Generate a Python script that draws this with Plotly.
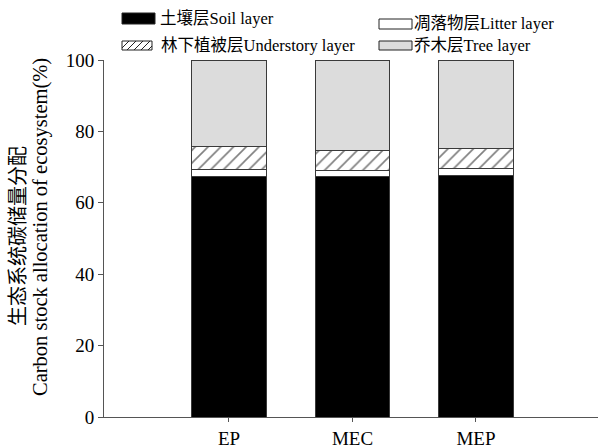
import plotly.graph_objects as go

# Forest types and carbon stock shares (%) of each ecosystem layer
sites = ["EP", "MEC", "MEP"]
soil = [67.5, 67.3, 67.7]
litter = [1.9, 1.7, 1.9]
understory = [6.5, 5.7, 5.7]
tree = [24.1, 25.3, 24.7]

y_ticks = [0, 20, 40, 60, 80, 100]

W, H = 598, 447
L, R, T, B = 104, 0, 60, 30
PW, PH = W - L - R, H - T - B

FONT = "Liberation Serif, Times New Roman, Noto Sans CJK SC, serif"
EDGE = "#3a3a3a"

fig = go.Figure()
x_pos = list(range(len(sites)))

fig.add_bar(x=x_pos, y=soil, name="土壤层Soil layer",
            marker=dict(color="black", line=dict(color=EDGE, width=1)))
fig.add_bar(x=x_pos, y=litter, name="凋落物层Litter layer",
            marker=dict(color="white", line=dict(color=EDGE, width=1)))
fig.add_bar(x=x_pos, y=understory, name="林下植被层Understory layer",
            marker=dict(color="white", line=dict(color=EDGE, width=1),
                        pattern=dict(shape="/", size=9, solidity=0.18,
                                     fgcolor="black", bgcolor="white",
                                     fillmode="overlay")))
fig.add_bar(x=x_pos, y=tree, name="乔木层Tree layer",
            marker=dict(color="#dcdcdc", line=dict(color=EDGE, width=1)))

fig.update_traces(width=0.6, showlegend=False)


def px(x):
    return (x - L) / PW


def py(y):
    return (H - B - y) / PH


# Hand-drawn legend: swatch boxes and labels above the plot
shapes = []
annotations = []

legend_items = [
    # (x0, x1, y0, y1, fill, label, text_x)
    (122, 155, 13, 24, "black", "土壤层Soil layer", 158),
    (379, 412, 19, 29, "white", "凋落物层Litter layer", 412),
    (122, 152, 41, 50, "white", "林下植被层Understory layer", 159),
    (379, 412, 41, 50, "#dcdcdc", "乔木层Tree layer", 412),
]
for x0, x1, y0, y1, fill, label, tx in legend_items:
    shapes.append(dict(type="rect", xref="paper", yref="paper",
                       x0=px(x0), x1=px(x1), y0=py(y1), y1=py(y0),
                       fillcolor=fill, line=dict(color="#222222", width=1)))
    annotations.append(dict(xref="paper", yref="paper", x=px(tx), y=py((y0 + y1) / 2),
                            xanchor="left", yanchor="middle", showarrow=False,
                            text=label, font=dict(family=FONT, size=16.5, color="black")))

# diagonal hatching inside the understory swatch
hx0, hx1, hy0, hy1 = 122, 152, 41, 50
segs = []
step = 7
k = hx0 - (hy1 - hy0)
while k < hx1:
    xa, ya = k, hy1
    xb, yb = k + (hy1 - hy0), hy0
    if xa < hx0:
        ya = hy1 - (hx0 - xa)
        xa = hx0
    if xb > hx1:
        yb = hy0 + (xb - hx1)
        xb = hx1
    if xb > xa:
        segs.append(f"M{px(xa)},{py(ya)} L{px(xb)},{py(yb)}")
    k += step
shapes.append(dict(type="path", xref="paper", yref="paper", path=" ".join(segs),
                   line=dict(color="#222222", width=1)))

# Two-line y-axis title, each line placed on its own
annotations.append(dict(xref="paper", yref="paper", x=px(18), y=py(236),
                        xanchor="center", yanchor="middle", showarrow=False,
                        textangle=-90, text="生态系统碳储量分配",
                        font=dict(family=FONT, size=20, color="black")))
annotations.append(dict(xref="paper", yref="paper", x=px(40), y=py(227),
                        xanchor="center", yanchor="middle", showarrow=False,
                        textangle=-90, text="Carbon stock allocation of ecosystem(%)",
                        font=dict(family=FONT, size=20.5, color="black")))

fig.update_layout(
    width=W, height=H,
    margin=dict(l=L, r=R, t=T, b=B, pad=0, autoexpand=False),
    barmode="stack",
    bargap=0.4,
    plot_bgcolor="white",
    paper_bgcolor="white",
    font=dict(family=FONT, size=18, color="black"),
    shapes=shapes,
    annotations=annotations,
    showlegend=False,
)

fig.update_xaxes(
    range=[-1.012, 2.988],
    tickvals=x_pos, ticktext=sites,
    showline=True, linecolor="#555555", linewidth=1,
    ticks="outside", ticklen=4, tickcolor="#555555",
    showgrid=False, zeroline=False,
    tickfont=dict(family=FONT, size=19),
    ticklabelstandoff=0,
    automargin=False,
)
fig.update_yaxes(
    range=[0, 100],
    tickvals=y_ticks,
    showline=True, linecolor="#555555", linewidth=1,
    ticks="outside", ticklen=5, tickcolor="#555555",
    showgrid=False, zeroline=False,
    tickfont=dict(family=FONT, size=19),
    automargin=False,
)

fig.write_html("out.html")
